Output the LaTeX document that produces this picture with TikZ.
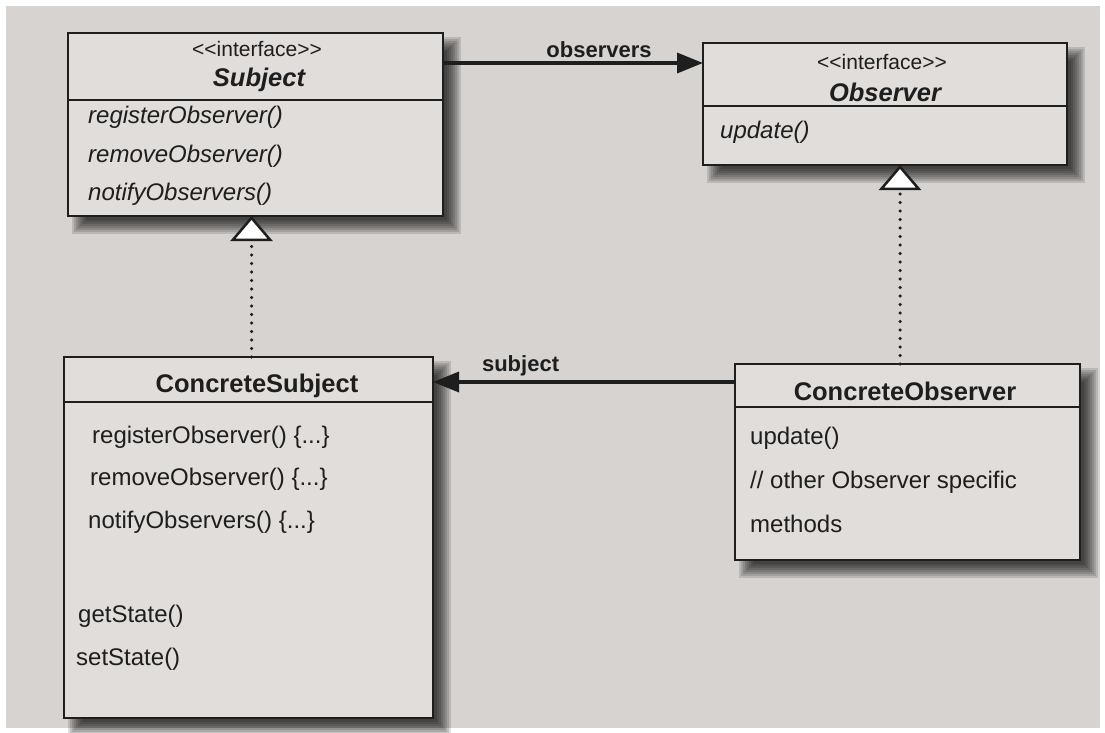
\documentclass[tikz,border=0pt]{standalone}
\usepackage{fontspec}
\setmainfont{Liberation Sans}
\usetikzlibrary{arrows.meta}
\pgfdeclarelayer{paper}
\pgfdeclarelayer{shade}
\pgfsetlayers{paper,shade,main}
\definecolor{paper}{HTML}{D6D3D0}
\definecolor{boxfill}{HTML}{E0DDDA}
\definecolor{ink}{HTML}{1E1E1E}
\tikzset{
 classbox/.style={draw=ink, line width=2.5pt, fill=boxfill, inner sep=0pt, outer sep=0pt, anchor=north west},
 divider/.style={draw=ink, line width=2.5pt},
 stereo/.style={text=ink, inner sep=0pt, font=\fontsize{21}{23}\selectfont},
 umltitle/.style={text=ink, inner sep=0pt, font=\fontsize{25.5}{29}\selectfont\bfseries},
 meth/.style={text=ink, inner sep=0pt, anchor=west, font=\fontsize{24}{28}\selectfont},
 assoc/.style={draw=ink, line width=3.5pt, -{Triangle[length=26pt,width=20pt]}},
 realize/.style={draw=ink, line width=3.5pt, line cap=round, dash pattern=on 0pt off 8.5pt,
   -{Triangle[length=25pt,width=42pt,line width=2.5pt,fill=white]}},
 lbl/.style={text=ink, font=\fontsize{22}{26}\selectfont\bfseries, inner sep=4pt}
}
\newcommand\boxshade[1]{%
 \begin{pgfonlayer}{shade}
 \foreach \e in {-7,-5,...,7}{
   \fill[black,opacity=0.13] ([shift={({11-\e},{11-\e})}]#1.north west) rectangle ([shift={({11+\e},{11+\e})}]#1.south east);
 }
 \end{pgfonlayer}}
\begin{document}
\begin{tikzpicture}[x=1pt,y=-1pt]
\useasboundingbox (0,0) rectangle (1105,733);
\begin{pgfonlayer}{paper}
\fill[white] (0,0) rectangle (1105,733);
\fill[paper] (6,6) rectangle (1100,728);
\end{pgfonlayer}

% Subject
\node[classbox, minimum width=375pt, minimum height=183pt] (subj) at (68,33) {};
\draw[divider] ([yshift=-67pt]subj.north west) -- ([yshift=-67pt]subj.north east);
\node[stereo] (subjst) at (257,49) {<{}<interface>{}>};
\node[umltitle] (subjt) at (259,80) {\itshape Subject};
\node[meth] (s1) at (88,117) {\itshape registerObserver()};
\node[meth] (s2) at (88,156) {\itshape removeObserver()};
\node[meth] (s3) at (88,194) {\itshape notifyObservers()};
\boxshade{subj}

% Observer
\node[classbox, minimum width=364pt, minimum height=122pt] (obs) at (703,43) {};
\draw[divider] ([yshift=-63pt]obs.north west) -- ([yshift=-63pt]obs.north east);
\node[stereo] (obsst) at (882,62) {<{}<interface>{}>};
\node[umltitle] (obst) at (885,92) {\itshape Observer};
\node[meth] (o1) at (720,132) {\itshape update()};
\boxshade{obs}

% ConcreteSubject
\node[classbox, minimum width=369pt, minimum height=361pt] (csubj) at (64,357) {};
\draw[divider] ([yshift=-45pt]csubj.north west) -- ([yshift=-45pt]csubj.north east);
\node[umltitle] (csubjt) at (257,386) {ConcreteSubject};
\node[meth] (c1) at (92,437) {registerObserver() \{...\}};
\node[meth] (c2) at (90,479) {removeObserver() \{...\}};
\node[meth] (c3) at (88,522) {notifyObservers() \{...\}};
\node[meth] (c4) at (78,616) {getState()};
\node[meth] (c5) at (76,659) {setState()};
\boxshade{csubj}

% ConcreteObserver
\node[classbox, minimum width=345pt, minimum height=196pt] (cobs) at (735,364) {};
\draw[divider] ([yshift=-43pt]cobs.north west) -- ([yshift=-43pt]cobs.north east);
\node[umltitle] (cobst) at (905,391) {ConcreteObserver};
\node[meth] (d1) at (750,438) {update()};
\node[meth] (d2) at (750,482) {// other Observer specific};
\node[meth] (d3) at (750,524) {methods};
\boxshade{cobs}

% associations
\draw[assoc] ([yshift=-30pt]subj.north east) -- node[lbl, pos=0.6, above] {observers} ([yshift=-20pt]obs.north west);
\draw[assoc] ([yshift=-18pt]cobs.north west) -- node[lbl, pos=0.71, above] {subject} ([yshift=-25pt]csubj.north east);

% realizations
\coordinate (t1) at ([xshift=-4pt]subj.south);
\coordinate (t2) at ([xshift=15pt]obs.south);
\draw[realize] (t1 |- csubj.north) -- (t1);
\draw[realize] (t2 |- cobs.north) -- (t2);
\end{tikzpicture}
\end{document}
